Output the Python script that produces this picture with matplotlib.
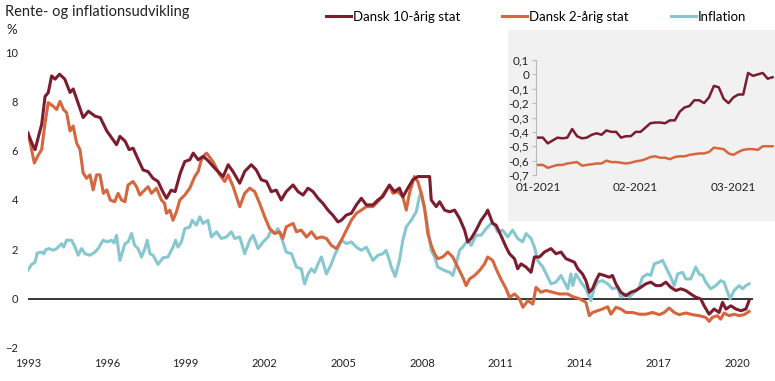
import numpy as np
import pandas as pd
import matplotlib
matplotlib.use("Agg")
import matplotlib.pyplot as plt
from matplotlib.patches import Rectangle
from matplotlib.ticker import FuncFormatter

plt.rcParams['font.family'] = ['Lato', 'DejaVu Sans']

# main chart, values (year, percent)
yr10 = [1993.0, 1993.15, 1993.27, 1993.4, 1993.52, 1993.65, 1993.77, 1993.9, 1994.03, 1994.2,
        1994.4, 1994.6, 1994.72, 1994.9, 1995.1, 1995.3, 1995.55, 1995.75, 1996.0, 1996.18,
        1996.37, 1996.5, 1996.7, 1996.85, 1997.0, 1997.2, 1997.38, 1997.57, 1997.76, 1997.95,
        1998.13, 1998.27, 1998.45, 1998.6, 1998.8, 1998.97, 1999.16, 1999.29, 1999.48, 1999.67,
        1999.85, 2000.17, 2000.43, 2000.62, 2000.8, 2001.06, 2001.25, 2001.5, 2001.69, 2001.88,
        2002.08, 2002.26, 2002.45, 2002.64, 2002.83, 2003.09, 2003.28, 2003.47, 2003.66, 2003.85,
        2004.04, 2004.23, 2004.42, 2004.6, 2004.8, 2004.93, 2005.12, 2005.31, 2005.5, 2005.69,
        2005.88, 2006.13, 2006.32, 2006.5, 2006.76, 2006.95, 2007.14, 2007.27, 2007.46, 2007.65,
        2007.84, 2008.29, 2008.35, 2008.54, 2008.67, 2008.86, 2009.05, 2009.24, 2009.43, 2009.62,
        2009.74, 2009.87, 2010.06, 2010.25, 2010.44, 2010.5, 2010.69, 2010.82, 2011.0, 2011.2,
        2011.33, 2011.52, 2011.64, 2011.77, 2011.96, 2012.15, 2012.28, 2012.47, 2012.66, 2012.91,
        2013.1, 2013.29, 2013.48, 2013.8, 2013.93, 2014.11, 2014.24, 2014.37, 2014.49, 2014.62,
        2014.75, 2014.94, 2015.13, 2015.25, 2015.38, 2015.57, 2015.76, 2015.95, 2016.14, 2016.33,
        2016.52, 2016.71, 2016.9, 2017.09, 2017.28, 2017.47, 2017.66, 2017.85, 2018.04, 2018.23,
        2018.42, 2018.61, 2018.74, 2018.93, 2019.12, 2019.31, 2019.44, 2019.57, 2019.76, 2019.95,
        2020.14, 2020.33, 2020.45]
dk10 = [6.7, 6.3, 6.04, 6.58, 7.06, 8.2, 8.35, 9.03, 8.9, 9.1,
        8.9, 8.36, 8.5, 7.95, 7.34, 7.6, 7.4, 7.34, 6.8, 6.53,
        6.24, 6.58, 6.38, 6.04, 6.1, 5.63, 5.22, 5.15, 4.88, 4.75,
        4.34, 4.07, 4.4, 4.34, 5.1, 5.56, 5.63, 5.9, 5.63, 5.77,
        5.6, 5.22, 4.95, 5.43, 5.16, 4.68, 5.16, 5.43, 5.22, 4.82,
        4.75, 4.34, 4.4, 4.0, 4.34, 4.61, 4.34, 4.2, 4.48, 4.34,
        4.07, 3.86, 3.59, 3.39, 3.11, 3.18, 3.39, 3.46, 3.8, 4.07,
        3.8, 3.8, 4.0, 4.13, 4.6, 4.34, 4.48, 4.13, 4.48, 4.82,
        4.95, 4.95, 4.0, 3.73, 3.93, 3.59, 3.52, 3.59, 3.25, 2.78,
        2.3, 2.44, 2.78, 3.18, 3.46, 3.59, 3.05, 2.98, 2.57, 2.09,
        1.82, 1.62, 1.21, 1.41, 1.28, 1.07, 1.69, 1.69, 1.89, 2.03,
        1.82, 1.89, 1.62, 1.48, 1.21, 1.0, 0.73, 0.26, 0.4, 0.73,
        1.0, 0.94, 0.87, 0.94, 0.6, 0.26, 0.12, 0.26, 0.33, 0.46,
        0.6, 0.67, 0.53, 0.53, 0.67, 0.46, 0.33, 0.4, 0.33, 0.19,
        0.06, -0.01, -0.29, -0.63, -0.42, -0.56, -0.15, -0.42, -0.29, -0.42,
        -0.49, -0.42, -0.08]

yr2 = [1993.0, 1993.1, 1993.24, 1993.4, 1993.52, 1993.65, 1993.77, 1993.96, 1994.09, 1994.22,
       1994.35, 1994.47, 1994.6, 1994.72, 1994.85, 1994.98, 1995.1, 1995.23, 1995.36, 1995.48,
       1995.61, 1995.74, 1995.87, 1996.0, 1996.13, 1996.3, 1996.43, 1996.56, 1996.69, 1996.81,
       1997.0, 1997.13, 1997.26, 1997.38, 1997.57, 1997.7, 1997.89, 1998.08, 1998.2, 1998.27,
       1998.4, 1998.52, 1998.65, 1998.78, 1998.97, 1999.16, 1999.35, 1999.48, 1999.6, 1999.73,
       1999.8, 2000.04, 2000.3, 2000.49, 2000.62, 2000.81, 2001.06, 2001.25, 2001.44, 2001.63,
       2001.82, 2002.01, 2002.2, 2002.39, 2002.58, 2002.7, 2002.83, 2003.09, 2003.22, 2003.4,
       2003.6, 2003.79, 2003.98, 2004.17, 2004.36, 2004.55, 2004.74, 2004.93, 2005.12, 2005.31,
       2005.5, 2005.69, 2005.88, 2006.13, 2006.38, 2006.63, 2006.76, 2006.89, 2007.08, 2007.27,
       2007.4, 2007.52, 2007.71, 2007.84, 2007.97, 2008.1, 2008.22, 2008.35, 2008.48, 2008.6,
       2008.79, 2008.98, 2009.17, 2009.36, 2009.55, 2009.68, 2009.81, 2010.0, 2010.19, 2010.38,
       2010.5, 2010.69, 2010.82, 2011.0, 2011.2, 2011.33, 2011.52, 2011.71, 2011.84, 2012.03,
       2012.22, 2012.34, 2012.53, 2012.72, 2012.97, 2013.23, 2013.55, 2013.74, 2013.99, 2014.24,
       2014.37, 2014.49, 2014.68, 2014.87, 2015.07, 2015.19, 2015.38, 2015.57, 2015.76, 2016.01,
       2016.27, 2016.52, 2016.78, 2017.03, 2017.22, 2017.41, 2017.6, 2017.79, 2018.04, 2018.3,
       2018.55, 2018.8, 2018.93, 2019.05, 2019.24, 2019.37, 2019.5, 2019.69, 2019.88, 2020.07,
       2020.26, 2020.45]
dk2 = [6.72, 6.24, 5.5, 5.84, 6.04, 7.13, 7.95, 7.8, 7.67, 8.0,
       7.67, 7.54, 6.8, 7.0, 6.31, 6.04, 5.09, 4.88, 5.02, 4.41,
       5.02, 5.02, 4.27, 4.41, 4.0, 3.93, 4.27, 4.0, 3.93, 4.61,
       4.75, 4.54, 4.2, 4.34, 4.54, 4.27, 4.48, 4.0, 3.86, 3.46,
       3.59, 3.18, 3.52, 4.0, 4.2, 4.48, 4.95, 5.16, 5.63, 5.84,
       5.9, 5.56, 5.02, 4.75, 5.02, 4.54, 3.73, 4.27, 4.48, 4.34,
       3.86, 3.32, 2.84, 2.64, 2.71, 2.44, 2.91, 3.05, 2.71, 2.78,
       2.5, 2.71, 2.44, 2.5, 2.44, 2.16, 2.03, 2.37, 2.78, 3.18,
       3.46, 3.59, 3.73, 3.73, 4.0, 4.4, 4.61, 4.27, 4.34, 4.13,
       3.59, 4.27, 4.95, 4.75, 4.27, 3.66, 2.64, 2.16, 1.82, 1.62,
       1.69, 1.89, 1.69, 1.28, 0.87, 0.53, 0.8, 0.94, 1.14, 1.41,
       1.69, 1.55, 1.21, 0.8, 0.4, 0.05, 0.19, -0.01, -0.35, -0.08,
       -0.22, 0.46, 0.26, 0.33, 0.26, 0.19, 0.19, 0.08, 0.0, -0.15,
       -0.69, -0.56, -0.49, -0.42, -0.33, -0.63, -0.35, -0.42, -0.56, -0.56,
       -0.63, -0.63, -0.56, -0.65, -0.56, -0.38, -0.56, -0.65, -0.58, -0.65,
       -0.69, -0.76, -0.92, -0.76, -0.69, -0.83, -0.58, -0.69, -0.63, -0.69,
       -0.65, -0.52]

yr_inf = [1993.0, 1993.14, 1993.27, 1993.35, 1993.52, 1993.6, 1993.68, 1993.8, 1993.96, 1994.09,
          1994.28, 1994.36, 1994.47, 1994.66, 1994.79, 1994.91, 1995.04, 1995.17, 1995.36, 1995.55,
          1995.67, 1995.86, 1996.02, 1996.18, 1996.28, 1996.37, 1996.5, 1996.69, 1996.81, 1996.94,
          1997.06, 1997.19, 1997.32, 1997.45, 1997.54, 1997.64, 1997.76, 1997.95, 1998.14, 1998.33,
          1998.52, 1998.62, 1998.71, 1998.84, 1998.97, 1999.16, 1999.25, 1999.41, 1999.54, 1999.66,
          1999.85, 1999.98, 2000.17, 2000.36, 2000.55, 2000.74, 2000.87, 2001.06, 2001.25, 2001.44,
          2001.57, 2001.76, 2001.95, 2002.14, 2002.26, 2002.39, 2002.51, 2002.64, 2002.83, 2003.03,
          2003.22, 2003.4, 2003.53, 2003.66, 2003.79, 2003.91, 2004.04, 2004.17, 2004.36, 2004.55,
          2004.67, 2004.8, 2004.93, 2005.12, 2005.31, 2005.5, 2005.69, 2005.88, 2006.13, 2006.32,
          2006.51, 2006.63, 2006.76, 2006.83, 2006.98, 2007.14, 2007.27, 2007.4, 2007.59, 2007.78,
          2007.9, 2007.97, 2008.1, 2008.22, 2008.35, 2008.48, 2008.6, 2008.73, 2008.86, 2009.05,
          2009.17, 2009.3, 2009.43, 2009.55, 2009.74, 2009.87, 2010.06, 2010.25, 2010.44, 2010.69,
          2010.88, 2011.07, 2011.26, 2011.45, 2011.64, 2011.83, 2011.96, 2012.15, 2012.28, 2012.4,
          2012.6, 2012.79, 2012.91, 2013.1, 2013.29, 2013.42, 2013.55, 2013.67, 2013.74, 2013.86,
          2014.05, 2014.24, 2014.43, 2014.55, 2014.68, 2014.87, 2015.07, 2015.25, 2015.44, 2015.57,
          2015.76, 2015.89, 2016.08, 2016.27, 2016.39, 2016.59, 2016.71, 2016.84, 2017.03, 2017.16,
          2017.28, 2017.47, 2017.6, 2017.73, 2017.92, 2018.04, 2018.23, 2018.42, 2018.55, 2018.68,
          2018.8, 2018.99, 2019.18, 2019.37, 2019.5, 2019.63, 2019.73, 2019.88, 2020.07, 2020.2,
          2020.33, 2020.45]
infl = [1.17, 1.39, 1.48, 1.85, 1.89, 1.82, 1.99, 2.03, 1.96, 2.03,
        2.23, 2.09, 2.37, 2.37, 2.09, 1.76, 2.03, 1.82, 1.76, 1.89,
        2.03, 2.37, 2.3, 2.37, 2.26, 2.57, 1.55, 2.23, 2.3, 2.64,
        2.16, 2.03, 1.69, 2.03, 2.37, 1.82, 1.76, 1.39, 1.66, 1.69,
        2.09, 2.37, 2.09, 2.3, 2.84, 2.91, 3.18, 2.98, 3.32, 3.05,
        3.18, 2.5, 2.71, 2.44, 2.5, 2.71, 2.44, 2.5, 1.82, 2.37,
        2.57, 2.03, 2.3, 2.5, 2.78, 2.64, 2.84, 2.5, 1.89, 1.82,
        1.28, 1.21, 0.6, 1.0, 1.21, 1.07, 1.41, 1.69, 1.0, 1.41,
        1.76, 2.03, 2.37, 2.23, 2.3, 2.09, 1.96, 2.09, 1.55, 1.76,
        1.82, 1.96, 1.55, 1.28, 0.9, 1.55, 2.37, 2.91, 3.18, 3.52,
        4.13, 4.34, 3.59, 2.91, 1.96, 1.69, 1.28, 1.21, 1.14, 1.07,
        0.94, 1.41, 1.96, 2.09, 2.37, 2.16, 2.57, 2.57, 2.84, 3.11,
        2.71, 2.78, 2.5, 2.78, 2.44, 2.3, 2.64, 2.44, 2.09, 1.55,
        1.28, 0.87, 0.6, 0.67, 0.94, 0.67, 0.4, 1.0, 0.53, 1.0,
        0.67, 0.4, -0.08, 0.4, 0.67, 0.73, 0.6, 0.4, 0.46, 0.06,
        0.19, 0.06, 0.26, 0.46, 0.87, 1.0, 0.94, 1.41, 1.48, 1.55,
        1.28, 0.87, 0.53, 1.0, 1.07, 0.8, 0.8, 1.28, 1.0, 0.94,
        0.67, 0.4, 0.53, 0.73, 0.67, 0.26, 0.0, 0.33, 0.53, 0.4,
        0.53, 0.6]

# inset: daily 2021 rates (business days from 4 Jan 2021)
ins10 = [-0.44, -0.44, -0.48, -0.46, -0.44, -0.445, -0.44, -0.38, -0.43, -0.445,
         -0.44, -0.42, -0.41, -0.42, -0.39, -0.40, -0.40, -0.44, -0.43, -0.43,
         -0.40, -0.40, -0.37, -0.34, -0.335, -0.335, -0.34, -0.32, -0.32, -0.26,
         -0.23, -0.22, -0.18, -0.18, -0.20, -0.16, -0.08, -0.09, -0.17, -0.20,
         -0.16, -0.14, -0.14, 0.01, -0.01, 0.0, 0.01, -0.03, -0.02]
ins2 = [-0.63, -0.63, -0.65, -0.64, -0.63, -0.63, -0.62, -0.615, -0.61, -0.635,
        -0.63, -0.625, -0.62, -0.62, -0.60, -0.61, -0.61, -0.615, -0.62, -0.615,
        -0.605, -0.60, -0.59, -0.575, -0.57, -0.58, -0.58, -0.59, -0.575, -0.57,
        -0.57, -0.56, -0.555, -0.55, -0.55, -0.54, -0.51, -0.515, -0.52, -0.55,
        -0.56, -0.54, -0.525, -0.52, -0.52, -0.525, -0.50, -0.50, -0.50]

c10 = '#7b1c2f'
c2 = '#d6663d'
cinf = '#87c8d0'
xticks = [1993, 1996, 1999, 2002, 2005, 2008, 2011, 2014, 2017, 2020]

fig = plt.figure(figsize=(7.75, 3.81), dpi=100)
ax = fig.add_axes([28 / 775, 33 / 381, 725 / 775, 296 / 381], zorder=0)
ax.plot(yr10, dk10, color=c10, lw=2.2, label='Dansk 10-årig stat', zorder=3)
ax.plot(yr2, dk2, color=c2, lw=2.2, label='Dansk 2-årig stat', zorder=2)
ax.plot(yr_inf, infl, color=cinf, lw=2.2, label='Inflation', zorder=1)
ax.axhline(0, color='black', lw=1.1, zorder=0)
ax.set_xlim(1993, 2020.6)
ax.set_ylim(-2, 10)
ax.set_xticks(xticks)
ax.set_yticks(range(-2, 11, 2))
for s in ax.spines.values():
    s.set_visible(False)
ax.tick_params(length=0, labelsize=8, pad=7, colors='#222222')

fig.text(5 / 775, 1 - 12 / 381, 'Rente- og inflationsudvikling', fontsize=10.5,
         va='center', ha='left', color='#222222')
fig.text(6 / 775, 1 - 30 / 381, '%', fontsize=9.5, va='center', ha='left', color='#222222')

fig.legend(loc='center', bbox_to_anchor=(536 / 775, 1 - 17 / 381), ncol=3, frameon=False,
           fontsize=9.5, handlelength=1.9, handletextpad=0.15, columnspacing=3.2)

# grey inset panel, drawn above the main axes and below the inset axes
panel = Rectangle((508 / 775, 160 / 381), 267 / 775, 191 / 381,
                  transform=fig.transFigure, facecolor='#f1f1f1',
                  edgecolor='none', zorder=1)
fig.add_artist(panel)

dates = pd.bdate_range('2021-01-04', periods=len(ins10))
xi = np.arange(len(dates))
ins = fig.add_axes([536 / 775, 206 / 381, 238 / 775, 115 / 381], zorder=2)
ins.patch.set_alpha(0)
ins.plot(xi, ins10, color=c10, lw=1.8)
ins.plot(xi, ins2, color=c2, lw=1.8)
ins.set_ylim(-0.7, 0.1)
ins.set_xlim(-0.4, len(dates) - 0.7)
ins.set_yticks(np.round(np.arange(-0.7, 0.11, 0.1), 1))
ins.yaxis.set_major_formatter(FuncFormatter(
    lambda v, p: '0' if abs(v) < 1e-9 else ('%.1f' % v).replace('.', ',')))
first = [i for i in range(len(dates)) if i == 0 or dates[i].month != dates[i - 1].month]
ins.set_xticks(first)
ins.set_xticklabels([dates[i].strftime('%m-%Y') for i in first])
for k in ['top', 'right', 'bottom']:
    ins.spines[k].set_visible(False)
ins.spines['left'].set_color('#bbbbbb')
ins.tick_params(axis='y', length=3, color='#bbbbbb', labelcolor='#222222',
                labelsize=8.5, pad=2)
ins.tick_params(axis='x', length=0, labelsize=8.5, pad=5, labelcolor='#222222')

fig.savefig('out.png', dpi=100)
